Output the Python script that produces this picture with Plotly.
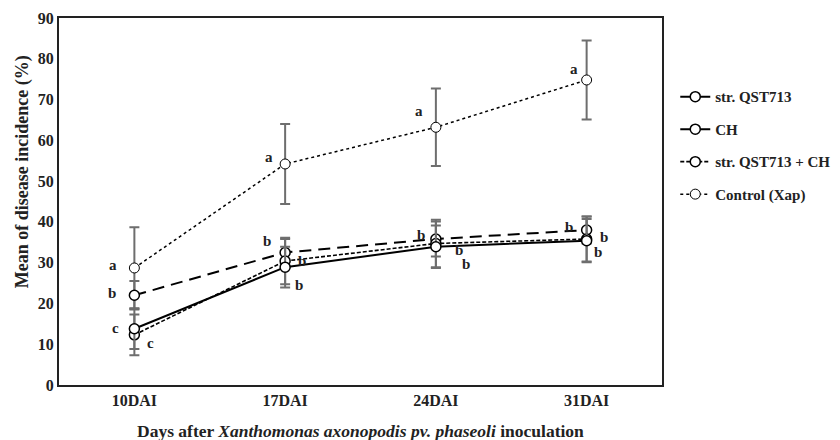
import plotly.graph_objects as go

categories = ["10DAI", "17DAI", "24DAI", "31DAI"]
series_names = ["str. QST713", "CH", "str. QST713 + CH", "Control (Xap)"]

qst713 = [13.8, 28.9, 33.9, 35.4]
ch = [22.0, 32.5, 35.8, 38.0]
qst713_ch = [12.3, 30.4, 34.7, 35.8]
control = [28.7, 54.2, 63.2, 74.8]

qst713_err = [5.0, 5.0, 5.2, 5.3]
ch_err = [3.5, 3.3, 4.3, 3.3]
qst713_ch_err = [5.0, 5.7, 5.8, 5.5]
control_err = [10.0, 9.8, 9.5, 9.7]

qst713_letters = ["c", "b", "b", "b"]
ch_letters = ["b", "b", "b", "b"]
qst713_ch_letters = ["c", "b", "b", "b"]
control_letters = ["a", "a", "a", "a"]

y_ticks = [0, 10, 20, 30, 40, 50, 60, 70, 80, 90]

FONT = "Liberation Serif"
xs = list(range(len(categories)))

styles = [
    dict(dash="solid", width=2),
    dict(dash="12px,7px", width=2),
    dict(dash="4px,2px", width=1.6),
    dict(dash="dot", width=1.5),
]
values = [qst713, ch, qst713_ch, control]
errors = [qst713_err, ch_err, qst713_ch_err, control_err]
letters = [qst713_letters, ch_letters, qst713_ch_letters, control_letters]

# label offsets (px) relative to each point
offsets = [
    [(-19, 1), (14, -18), (30, -17), (11, -11)],
    [(-22, 2), (-18, 11), (-15, 4), (-18, 3)],
    [(16, -8), (17, 0), (23, -6), (17, 2)],
    [(-21, 3), (-16, 7), (-17, 16), (-13, 11)],
]

fig = go.Figure()
order = [3, 1, 2, 0]
for i in order:
    fig.add_trace(go.Scatter(
        x=xs, y=values[i], name="<b>%s</b>" % series_names[i], mode="lines+markers",
        line=dict(color="black", **styles[i]),
        marker=dict(symbol="circle", size=10, color="white",
                    line=dict(color="black", width=1.5 if i != 3 else 1)),
        error_y=dict(type="data", array=errors[i], color="#6e6e6e",
                     thickness=2, width=5),
        legendgroup=str(i), legendrank=i,
    ))

annotations = []
for i in range(4):
    for j in range(4):
        dx, dy = offsets[i][j]
        annotations.append(dict(
            x=xs[j], y=values[i][j], text="<b>%s</b>" % letters[i][j],
            showarrow=False, xshift=dx, yshift=dy,
            font=dict(family=FONT, size=15, color="#222")))

# y-axis title (rotated text, slightly above plot centre as in the reference)
annotations.append(dict(
    xref="paper", yref="paper", x=0, y=0.58, xshift=-37,
    xanchor="center", yanchor="middle", textangle=-90, showarrow=False,
    text="<b>Mean of disease incidence (%)</b>",
    font=dict(family=FONT, size=18, color="#222")))

# x-axis title
annotations.append(dict(
    xref="paper", yref="paper", x=0.5, y=0, yshift=-46,
    xanchor="center", yanchor="middle", showarrow=False,
    text="<b>Days after <i>Xanthomonas axonopodis pv. phaseoli</i> inoculation</b>",
    font=dict(family=FONT, size=17.5, color="#222")))

# the page body adds an 8px margin, so the figure is sized to fit the window
fig.update_layout(
    width=832, height=432,
    margin=dict(l=51, r=178, t=10, b=55, autoexpand=False),
    paper_bgcolor="white", plot_bgcolor="white",
    font=dict(family=FONT, color="#222"),
    showlegend=True,
    legend=dict(x=1.022, y=0.83, xanchor="left", yanchor="top",
                font=dict(family=FONT, size=15, color="#222"),
                traceorder="grouped", tracegroupgap=10,
                bgcolor="rgba(0,0,0,0)"),
    annotations=annotations,
)
fig.update_xaxes(
    range=[-0.5, 3.5], tickvals=xs,
    ticktext=["<b>%s</b>" % c for c in categories],
    tickfont=dict(family=FONT, size=16, color="#222"),
    showline=True, linecolor="#222", linewidth=2, mirror=True,
    showgrid=False, zeroline=False, ticks="", automargin=False,
)
fig.update_yaxes(
    range=[0, 90], tickvals=y_ticks,
    ticktext=["<b>%d</b>" % v for v in y_ticks],
    tickfont=dict(family=FONT, size=16, color="#222"),
    showline=True, linecolor="#222", linewidth=2, mirror=True,
    showgrid=False, zeroline=False, ticks="", automargin=False,
)

fig.write_html("out.html")
